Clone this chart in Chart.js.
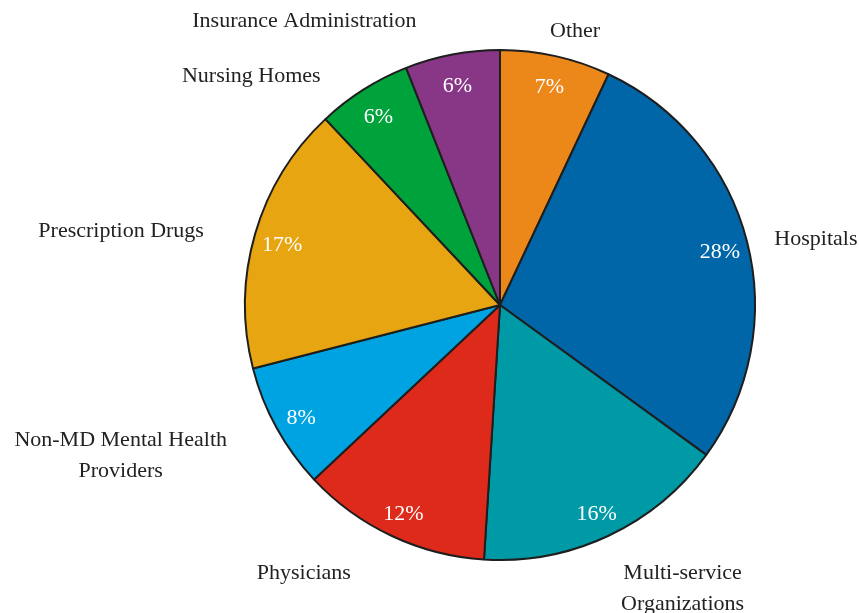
<!DOCTYPE html>
<html>
<head>
<meta charset="utf-8">
<script src="https://cdn.jsdelivr.net/npm/chart.js@4.4.1/dist/chart.umd.min.js"></script>
<style>
  html, body { margin: 0; padding: 0; background: #ffffff; }
  #wrap { width: 859px; height: 613px; }
</style>
</head>
<body>
<div id="wrap"><canvas id="spending-pie-chart"></canvas></div>
<script>
// data, clockwise from 12 o'clock
const categories = [
    'Other',
    'Hospitals',
    ['Multi-service', 'Organizations'],
    'Physicians',
    ['Non-MD Mental Health', 'Providers'],
    'Prescription Drugs',
    'Nursing Homes',
    'Insurance Administration'
];
const shares = [7, 28, 16, 12, 8, 17, 6, 6];
const sliceColors = ['#ec8819', '#0066a8', '#009aa6', '#dd2a1b', '#00a3e2', '#e7a512', '#00a23c', '#883686'];

const SERIF = '"Liberation Serif", "DejaVu Serif", serif';

//outside labels + percent labels
const pieLabels = {
    id: 'pieLabels',
    afterDatasetsDraw(chart) {
        const ctx = chart.ctx;
        const meta = chart.getDatasetMeta(0);
        ctx.save();
        meta.data.forEach(function (arc, i) {
            const mid = (arc.startAngle + arc.endAngle) / 2;
            const cx = arc.x, cy = arc.y, r = arc.outerRadius;
            const cos = Math.cos(mid), sin = Math.sin(mid);

            //percent
            ctx.fillStyle = '#ffffff';
            ctx.font = '22px ' + SERIF;
            ctx.textAlign = 'center';
            ctx.textBaseline = 'middle';
            ctx.fillText(shares[i] + '%', cx + cos * r * 0.89, cy + sin * r * 0.89 + 4);

            //category
            const lines = Array.isArray(categories[i]) ? categories[i] : [categories[i]];
            const lineH = 31;
            let ax = cx + cos * (r + 20);
            const ay = cy + sin * (r + 20);
            if (cos < -0.1) ax -= 32;
            else if (cos > 0.5) ax += 8;
            else if (cos > 0.3) ax += 4;
            else if (cos > 0) ax -= 10;
            ctx.font = '22px ' + SERIF;
            ctx.fillStyle = '#222222';
            const blockW = Math.max.apply(null, lines.map(function (l) { return ctx.measureText(l).width; }));
            let centerX;
            if (cos > 0.1) centerX = ax + blockW / 2;
            else if (cos < -0.1) centerX = ax - blockW / 2;
            else centerX = ax;
            let firstY;
            if (sin < -0.88) firstY = ay - 10 + 22 * cos;
            else if (sin > 0.88) firstY = ay + 19;
            else firstY = ay + 3;
            ctx.textAlign = 'center';
            lines.forEach(function (l, k) {
                ctx.fillText(l, centerX, firstY + lineH * k);
            });
        });
        ctx.restore();
    }
};

new Chart(document.getElementById('spending-pie-chart'), {
    type: 'pie',
    data: {
        labels: categories,
        datasets: [{
            data: shares,
            backgroundColor: sliceColors,
            borderColor: '#1e1e1e',
            borderWidth: 2
        }]
    },
    options: {
        responsive: true,
        maintainAspectRatio: false,
        animation: false,
        layout: { padding: { left: 244, right: 103, top: 49, bottom: 52 } },
        plugins: {
            legend: { display: false },
            tooltip: { enabled: false }
        }
    },
    plugins: [pieLabels]
});
</script>
</body>
</html>
